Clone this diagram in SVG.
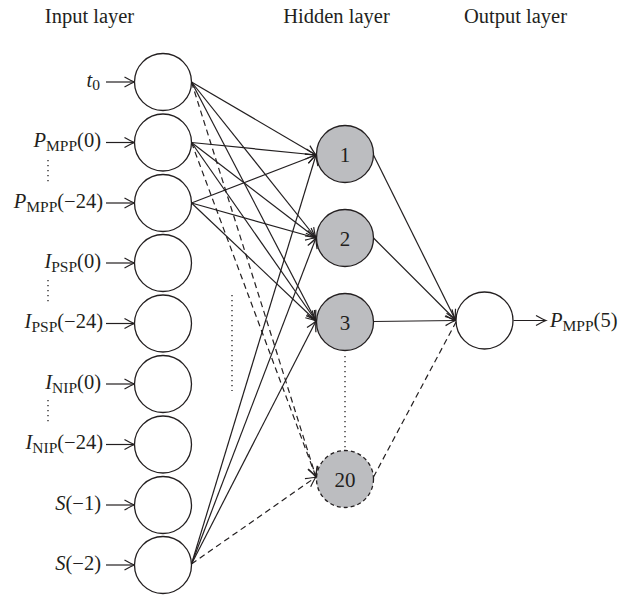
<svg xmlns="http://www.w3.org/2000/svg" width="635" height="597" viewBox="0 0 635 597">
<style>
text{font-family:"Liberation Serif","Times New Roman",serif;fill:#231f20}
.title{font-size:20.5px;text-anchor:middle}
.lbl{font-size:20.5px;text-anchor:end}
.sub{font-size:15.5px;font-style:normal}
.it{font-style:italic}
.num{font-size:21px;text-anchor:middle}
.in{fill:#fff;stroke:#231f20;stroke-width:1.3}
.hid{fill:#bcbdc0;stroke:#231f20;stroke-width:1.3}
.hidd{fill:#bcbdc0;stroke:#231f20;stroke-width:1.3;stroke-dasharray:4 3}
.c{stroke:#231f20;stroke-width:1.2;fill:none}
.a{marker-end:url(#ah)}
.d{stroke-dasharray:6 4}
.dot{stroke:#231f20;stroke-width:1.3;stroke-dasharray:1.2 3.8;fill:none}
</style>
<defs>
<marker id="ah" viewBox="-11 -6 13 12" markerWidth="13" markerHeight="12" refX="0" refY="0" orient="auto" markerUnits="userSpaceOnUse">
<path d="M-10,-5 Q-3,-1 0,0 Q-3,1 -10,5" fill="none" stroke="#231f20" stroke-width="1.2" stroke-dasharray="none"/>
</marker>
</defs>

<g id="titles">
<text class="title" x="89.5" y="22.5">Input layer</text>
<text class="title" x="336.5" y="22.5">Hidden layer</text>
<text class="title" x="515.5" y="22.5">Output layer</text>
</g>

<g id="connectors">
<line class="c a" x1="106" y1="82" x2="134.5" y2="82"/>
<line class="c a" x1="106" y1="142.5" x2="134.5" y2="142.5"/>
<line class="c a" x1="106" y1="203" x2="134.5" y2="203"/>
<line class="c a" x1="106" y1="263" x2="134.5" y2="263"/>
<line class="c a" x1="106" y1="323.5" x2="134.5" y2="323.5"/>
<line class="c a" x1="106" y1="384" x2="134.5" y2="384"/>
<line class="c a" x1="106" y1="444.5" x2="134.5" y2="444.5"/>
<line class="c a" x1="106" y1="505" x2="134.5" y2="505"/>
<line class="c a" x1="106" y1="565" x2="134.5" y2="565"/>
<line class="c a" x1="191.5" y1="82" x2="316" y2="155"/>
<line class="c a" x1="191.5" y1="82" x2="316" y2="238"/>
<line class="c a" x1="191.5" y1="82" x2="316" y2="321"/>
<line class="c a d" x1="191.5" y1="82" x2="316" y2="477"/>
<line class="c a" x1="191.5" y1="142.5" x2="316" y2="155"/>
<line class="c a" x1="191.5" y1="142.5" x2="316" y2="238"/>
<line class="c a" x1="191.5" y1="142.5" x2="316" y2="321"/>
<line class="c a d" x1="191.5" y1="142.5" x2="316" y2="477"/>
<line class="c a" x1="191.5" y1="203" x2="316" y2="155"/>
<line class="c a" x1="191.5" y1="203" x2="316" y2="238"/>
<line class="c a" x1="191.5" y1="203" x2="316" y2="321"/>
<line class="c a" x1="191.5" y1="564" x2="316" y2="155"/>
<line class="c a" x1="191.5" y1="564" x2="316" y2="238"/>
<line class="c a" x1="191.5" y1="564" x2="316" y2="321"/>
<line class="c a d" x1="191.5" y1="564" x2="316" y2="477"/>
<line class="c a" x1="373.5" y1="155" x2="455.5" y2="320"/>
<line class="c a" x1="373.5" y1="238" x2="455.5" y2="320"/>
<line class="c a" x1="373.5" y1="321.5" x2="455.5" y2="320.5"/>
<line class="c d" x1="373.5" y1="477" x2="456" y2="322"/>
<line class="c a" x1="513.5" y1="320.5" x2="546" y2="320.5"/>
<line class="dot" x1="48" y1="160" x2="48" y2="183"/>
<line class="dot" x1="48" y1="280" x2="48" y2="303"/>
<line class="dot" x1="48" y1="400" x2="48" y2="423"/>
<line class="dot" x1="232" y1="295" x2="232" y2="391"/>
<line class="dot" x1="345" y1="356" x2="345" y2="450"/>
</g>

<g id="in-t0"><circle class="in" cx="163" cy="82" r="28.5"/>
<text class="lbl" x="100" y="86.5"><tspan class="it">t</tspan><tspan class="sub" dy="3">0</tspan></text></g>
<g id="in-pmpp0"><circle class="in" cx="163" cy="142.5" r="28.5"/>
<text class="lbl" x="101" y="147"><tspan class="it">P</tspan><tspan class="sub" dy="4">MPP</tspan><tspan dy="-4">(0)</tspan></text></g>
<g id="in-pmpp24"><circle class="in" cx="163" cy="203" r="28.5"/>
<text class="lbl" x="103" y="207.5"><tspan class="it">P</tspan><tspan class="sub" dy="4">MPP</tspan><tspan dy="-4">(−24)</tspan></text></g>
<g id="in-ipsp0"><circle class="in" cx="163" cy="263" r="28.5"/>
<text class="lbl" x="101" y="267.5"><tspan class="it">I</tspan><tspan class="sub" dy="4">PSP</tspan><tspan dy="-4">(0)</tspan></text></g>
<g id="in-ipsp24"><circle class="in" cx="163" cy="323.5" r="28.5"/>
<text class="lbl" x="103" y="328"><tspan class="it">I</tspan><tspan class="sub" dy="4">PSP</tspan><tspan dy="-4">(−24)</tspan></text></g>
<g id="in-inip0"><circle class="in" cx="163" cy="384" r="28.5"/>
<text class="lbl" x="101" y="388.5"><tspan class="it">I</tspan><tspan class="sub" dy="4">NIP</tspan><tspan dy="-4">(0)</tspan></text></g>
<g id="in-inip24"><circle class="in" cx="163" cy="444.5" r="28.5"/>
<text class="lbl" x="103" y="449"><tspan class="it">I</tspan><tspan class="sub" dy="4">NIP</tspan><tspan dy="-4">(−24)</tspan></text></g>
<g id="in-s1"><circle class="in" cx="163" cy="505" r="28.5"/>
<text class="lbl" x="101" y="509.5"><tspan class="it">S</tspan>(−1)</text></g>
<g id="in-s2"><circle class="in" cx="163" cy="565" r="28.5"/>
<text class="lbl" x="101" y="569.5"><tspan class="it">S</tspan>(−2)</text></g>

<g id="h1"><circle class="hid" cx="345" cy="154" r="28.5"/><text class="num" x="345" y="161.5">1</text></g>
<g id="h2"><circle class="hid" cx="345" cy="238" r="28.5"/><text class="num" x="345" y="245.5">2</text></g>
<g id="h3"><circle class="hid" cx="345" cy="322" r="28.5"/><text class="num" x="345" y="329.5">3</text></g>
<g id="h20"><circle class="hidd" cx="345" cy="479" r="28.5"/><text class="num" x="345" y="486.5">20</text></g>

<g id="out"><circle class="in" cx="484.5" cy="320.5" r="28.5"/>
<text x="550" y="326.5" style="font-size:20.5px"><tspan class="it">P</tspan><tspan class="sub" dy="4">MPP</tspan><tspan dy="-4">(5)</tspan></text></g>
</svg>
